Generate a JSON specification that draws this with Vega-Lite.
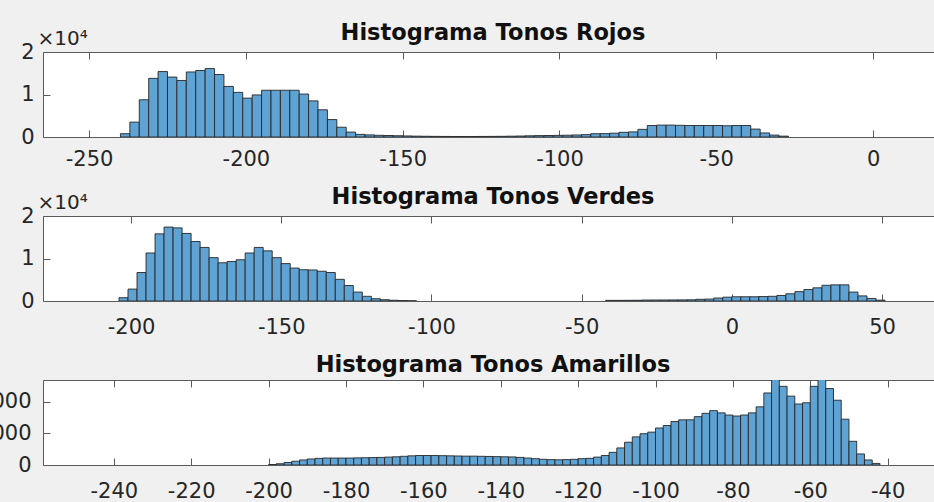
{
  "$schema": "https://vega.github.io/schema/vega-lite/v6.json",
  "background": "#f0f0f0",
  "padding": {"left": -23, "top": 21, "right": -3, "bottom": 0},
  "bounds": "flush",
  "spacing": 79,
  "config": {
    "view": {"stroke": "#5a5a5a", "strokeWidth": 1, "fill": "white"},
    "font": "DejaVu Sans",
    "axis": {"domain": false, "grid": false, "labelFont": "DejaVu Sans", "labelFontSize": 21, "labelColor": "#262626", "tickColor": "#5a5a5a", "tickSize": -7, "tickWidth": 1, "titleFont": "DejaVu Sans", "titleFontSize": 19, "titleFontWeight": "normal", "titleColor": "#262626"},
    "axisX": {"labelPadding": 20},
    "axisY": {"labelPadding": 16},
    "title": {"font": "DejaVu Sans", "fontSize": 22.5, "fontWeight": "bold", "color": "#111111", "anchor": "middle", "offset": 12, "baseline": "alphabetic"}
  },
  "datasets": {
    "rojos": [
      {"start": -240, "end": -237, "count": 780},
      {"start": -237, "end": -234, "count": 3500},
      {"start": -234, "end": -231, "count": 8760},
      {"start": -231, "end": -228, "count": 13800},
      {"start": -228, "end": -225, "count": 15400},
      {"start": -225, "end": -222, "count": 14100},
      {"start": -222, "end": -219, "count": 13300},
      {"start": -219, "end": -216, "count": 15300},
      {"start": -216, "end": -213, "count": 15650},
      {"start": -213, "end": -210, "count": 16100},
      {"start": -210, "end": -207, "count": 14700},
      {"start": -207, "end": -204, "count": 11900},
      {"start": -204, "end": -201, "count": 10500},
      {"start": -201, "end": -198, "count": 9150},
      {"start": -198, "end": -195, "count": 9900},
      {"start": -195, "end": -192, "count": 11000},
      {"start": -192, "end": -189, "count": 11000},
      {"start": -189, "end": -186, "count": 11000},
      {"start": -186, "end": -183, "count": 11000},
      {"start": -183, "end": -180, "count": 10100},
      {"start": -180, "end": -177, "count": 8500},
      {"start": -177, "end": -174, "count": 6400},
      {"start": -174, "end": -171, "count": 4100},
      {"start": -171, "end": -168, "count": 2300},
      {"start": -168, "end": -165, "count": 1160},
      {"start": -165, "end": -162, "count": 620},
      {"start": -162, "end": -159, "count": 500},
      {"start": -159, "end": -156, "count": 400},
      {"start": -156, "end": -153, "count": 350},
      {"start": -153, "end": -150, "count": 300},
      {"start": -150, "end": -147, "count": 250},
      {"start": -147, "end": -144, "count": 200},
      {"start": -144, "end": -141, "count": 170},
      {"start": -141, "end": -138, "count": 150},
      {"start": -138, "end": -135, "count": 130},
      {"start": -135, "end": -132, "count": 120},
      {"start": -132, "end": -129, "count": 120},
      {"start": -129, "end": -126, "count": 120},
      {"start": -126, "end": -123, "count": 130},
      {"start": -123, "end": -120, "count": 140},
      {"start": -120, "end": -117, "count": 160},
      {"start": -117, "end": -114, "count": 190},
      {"start": -114, "end": -111, "count": 230},
      {"start": -111, "end": -108, "count": 280},
      {"start": -108, "end": -105, "count": 330},
      {"start": -105, "end": -102, "count": 350},
      {"start": -102, "end": -99, "count": 380},
      {"start": -99, "end": -96, "count": 420},
      {"start": -96, "end": -93, "count": 480},
      {"start": -93, "end": -90, "count": 560},
      {"start": -90, "end": -87, "count": 780},
      {"start": -87, "end": -84, "count": 800},
      {"start": -84, "end": -81, "count": 900},
      {"start": -81, "end": -78, "count": 1100},
      {"start": -78, "end": -75, "count": 1200},
      {"start": -75, "end": -72, "count": 1800},
      {"start": -72, "end": -69, "count": 2700},
      {"start": -69, "end": -66, "count": 2800},
      {"start": -66, "end": -63, "count": 2800},
      {"start": -63, "end": -60, "count": 2750},
      {"start": -60, "end": -57, "count": 2700},
      {"start": -57, "end": -54, "count": 2700},
      {"start": -54, "end": -51, "count": 2700},
      {"start": -51, "end": -48, "count": 2700},
      {"start": -48, "end": -45, "count": 2650},
      {"start": -45, "end": -42, "count": 2700},
      {"start": -42, "end": -39, "count": 2700},
      {"start": -39, "end": -36, "count": 1860},
      {"start": -36, "end": -33, "count": 950},
      {"start": -33, "end": -30, "count": 450},
      {"start": -30, "end": -27, "count": 200}
    ],
    "verdes": [
      {"start": -204, "end": -201, "count": 780},
      {"start": -201, "end": -198, "count": 2800},
      {"start": -198, "end": -195, "count": 6700},
      {"start": -195, "end": -192, "count": 11300},
      {"start": -192, "end": -189, "count": 15800},
      {"start": -189, "end": -186, "count": 17400},
      {"start": -186, "end": -183, "count": 17200},
      {"start": -183, "end": -180, "count": 15900},
      {"start": -180, "end": -177, "count": 14000},
      {"start": -177, "end": -174, "count": 12600},
      {"start": -174, "end": -171, "count": 10200},
      {"start": -171, "end": -168, "count": 9000},
      {"start": -168, "end": -165, "count": 9300},
      {"start": -165, "end": -162, "count": 9700},
      {"start": -162, "end": -159, "count": 11300},
      {"start": -159, "end": -156, "count": 12600},
      {"start": -156, "end": -153, "count": 11800},
      {"start": -153, "end": -150, "count": 10200},
      {"start": -150, "end": -147, "count": 8800},
      {"start": -147, "end": -144, "count": 7750},
      {"start": -144, "end": -141, "count": 7350},
      {"start": -141, "end": -138, "count": 7300},
      {"start": -138, "end": -135, "count": 7000},
      {"start": -135, "end": -132, "count": 6700},
      {"start": -132, "end": -129, "count": 5100},
      {"start": -129, "end": -126, "count": 3650},
      {"start": -126, "end": -123, "count": 2100},
      {"start": -123, "end": -120, "count": 1100},
      {"start": -120, "end": -117, "count": 540},
      {"start": -117, "end": -114, "count": 300},
      {"start": -114, "end": -111, "count": 170},
      {"start": -111, "end": -108, "count": 100},
      {"start": -108, "end": -105, "count": 50},
      {"start": -42, "end": -39, "count": 150},
      {"start": -39, "end": -36, "count": 150},
      {"start": -36, "end": -33, "count": 160},
      {"start": -33, "end": -30, "count": 170},
      {"start": -30, "end": -27, "count": 220},
      {"start": -27, "end": -24, "count": 230},
      {"start": -24, "end": -21, "count": 240},
      {"start": -21, "end": -18, "count": 250},
      {"start": -18, "end": -15, "count": 260},
      {"start": -15, "end": -12, "count": 280},
      {"start": -12, "end": -9, "count": 400},
      {"start": -9, "end": -6, "count": 450},
      {"start": -6, "end": -3, "count": 700},
      {"start": -3, "end": 0, "count": 900},
      {"start": 0, "end": 3, "count": 1000},
      {"start": 3, "end": 6, "count": 1000},
      {"start": 6, "end": 9, "count": 1000},
      {"start": 9, "end": 12, "count": 1050},
      {"start": 12, "end": 15, "count": 1100},
      {"start": 15, "end": 18, "count": 1300},
      {"start": 18, "end": 21, "count": 1700},
      {"start": 21, "end": 24, "count": 2200},
      {"start": 24, "end": 27, "count": 2700},
      {"start": 27, "end": 30, "count": 3100},
      {"start": 30, "end": 33, "count": 3700},
      {"start": 33, "end": 36, "count": 3800},
      {"start": 36, "end": 39, "count": 3800},
      {"start": 39, "end": 42, "count": 2100},
      {"start": 42, "end": 45, "count": 1200},
      {"start": 45, "end": 48, "count": 600},
      {"start": 48, "end": 51, "count": 200}
    ],
    "amarillos": [
      {"start": -200, "end": -198, "count": 15},
      {"start": -198, "end": -196, "count": 40},
      {"start": -196, "end": -194, "count": 80},
      {"start": -194, "end": -192, "count": 120},
      {"start": -192, "end": -190, "count": 160},
      {"start": -190, "end": -188, "count": 190},
      {"start": -188, "end": -186, "count": 210},
      {"start": -186, "end": -184, "count": 220},
      {"start": -184, "end": -182, "count": 220},
      {"start": -182, "end": -180, "count": 220},
      {"start": -180, "end": -178, "count": 220},
      {"start": -178, "end": -176, "count": 225},
      {"start": -176, "end": -174, "count": 230},
      {"start": -174, "end": -172, "count": 235},
      {"start": -172, "end": -170, "count": 240},
      {"start": -170, "end": -168, "count": 250},
      {"start": -168, "end": -166, "count": 260},
      {"start": -166, "end": -164, "count": 275},
      {"start": -164, "end": -162, "count": 290},
      {"start": -162, "end": -160, "count": 300},
      {"start": -160, "end": -158, "count": 300},
      {"start": -158, "end": -156, "count": 300},
      {"start": -156, "end": -154, "count": 295},
      {"start": -154, "end": -152, "count": 290},
      {"start": -152, "end": -150, "count": 285},
      {"start": -150, "end": -148, "count": 280},
      {"start": -148, "end": -146, "count": 280},
      {"start": -146, "end": -144, "count": 275},
      {"start": -144, "end": -142, "count": 270},
      {"start": -142, "end": -140, "count": 265},
      {"start": -140, "end": -138, "count": 260},
      {"start": -138, "end": -136, "count": 255},
      {"start": -136, "end": -134, "count": 240},
      {"start": -134, "end": -132, "count": 220},
      {"start": -132, "end": -130, "count": 200},
      {"start": -130, "end": -128, "count": 180},
      {"start": -128, "end": -126, "count": 170},
      {"start": -126, "end": -124, "count": 165},
      {"start": -124, "end": -122, "count": 170},
      {"start": -122, "end": -120, "count": 180},
      {"start": -120, "end": -118, "count": 200},
      {"start": -118, "end": -116, "count": 210},
      {"start": -116, "end": -114, "count": 250},
      {"start": -114, "end": -112, "count": 300},
      {"start": -112, "end": -110, "count": 400},
      {"start": -110, "end": -108, "count": 540},
      {"start": -108, "end": -106, "count": 720},
      {"start": -106, "end": -104, "count": 890},
      {"start": -104, "end": -102, "count": 990},
      {"start": -102, "end": -100, "count": 1040},
      {"start": -100, "end": -98, "count": 1170},
      {"start": -98, "end": -96, "count": 1250},
      {"start": -96, "end": -94, "count": 1375},
      {"start": -94, "end": -92, "count": 1430},
      {"start": -92, "end": -90, "count": 1430},
      {"start": -90, "end": -88, "count": 1530},
      {"start": -88, "end": -86, "count": 1635},
      {"start": -86, "end": -84, "count": 1720},
      {"start": -84, "end": -82, "count": 1650},
      {"start": -82, "end": -80, "count": 1580},
      {"start": -80, "end": -78, "count": 1550},
      {"start": -78, "end": -76, "count": 1580},
      {"start": -76, "end": -74, "count": 1650},
      {"start": -74, "end": -72, "count": 1840},
      {"start": -72, "end": -70, "count": 2280},
      {"start": -70, "end": -68, "count": 2800},
      {"start": -68, "end": -66, "count": 2490},
      {"start": -66, "end": -64, "count": 2180},
      {"start": -64, "end": -62, "count": 1930},
      {"start": -62, "end": -60, "count": 1970},
      {"start": -60, "end": -58, "count": 2490},
      {"start": -58, "end": -56, "count": 2800},
      {"start": -56, "end": -54, "count": 2420},
      {"start": -54, "end": -52, "count": 2050},
      {"start": -52, "end": -50, "count": 1450},
      {"start": -50, "end": -48, "count": 750},
      {"start": -48, "end": -46, "count": 350},
      {"start": -46, "end": -44, "count": 160},
      {"start": -44, "end": -42, "count": 50}
    ]
  },
  "vconcat": [
    {
      "title": {"text": "Histograma Tonos Rojos", "offset": -16},
      "width": 900,
      "height": 85,
      "data": {"name": "rojos"},
      "resolve": {"axis": {"x": "independent", "y": "independent"}},
      "layer": [
        {
          "mark": {"type": "rect", "fill": "#5fa3d5", "stroke": "#262626", "strokeWidth": 0.9, "clip": true},
          "encoding": {
            "x": {"field": "start", "type": "quantitative", "scale": {"domain": [-264.7, 22.3], "nice": false, "zero": false},
                  "axis": {"orient": "bottom", "values": [-250, -200, -150, -100, -50, 0], "labelExpr": "'' + datum.value", "title": null, "labelPadding": 18}},
            "x2": {"field": "end"},
            "y": {"field": "count", "type": "quantitative", "scale": {"domain": [0, 20000], "nice": false},
                  "axis": {"orient": "left", "values": [0, 10000, 20000], "labelExpr": "'' + (datum.value / 10000)", "title": "×10⁴", "titleFontSize": 20, "titleAngle": 0, "titleAlign": "left", "titleBaseline": "alphabetic", "titleX": -6, "titleY": -8}},
            "y2": {"datum": 0}
          }
        },
        {
          "mark": {"type": "rect", "opacity": 0},
          "encoding": {
            "x": {"field": "start", "type": "quantitative", "axis": {"orient": "top", "values": [-250, -200, -150, -100, -50, 0], "labels": false, "title": null}},
            "x2": {"field": "end"},
            "y": {"field": "count", "type": "quantitative", "axis": {"orient": "right", "values": [0, 10000, 20000], "labels": false, "title": null}},
            "y2": {"datum": 0}
          }
        }
      ]
    },
    {
      "title": {"text": "Histograma Tonos Verdes", "offset": -16},
      "width": 900,
      "height": 85,
      "data": {"name": "verdes"},
      "resolve": {"axis": {"x": "independent", "y": "independent"}},
      "layer": [
        {
          "mark": {"type": "rect", "fill": "#5fa3d5", "stroke": "#262626", "strokeWidth": 0.9, "clip": true},
          "encoding": {
            "x": {"field": "start", "type": "quantitative", "scale": {"domain": [-229.3, 70.3], "nice": false, "zero": false},
                  "axis": {"orient": "bottom", "values": [-200, -150, -100, -50, 0, 50], "labelExpr": "'' + datum.value", "title": null, "labelPadding": 22}},
            "x2": {"field": "end"},
            "y": {"field": "count", "type": "quantitative", "scale": {"domain": [0, 20000], "nice": false},
                  "axis": {"orient": "left", "values": [0, 10000, 20000], "labelExpr": "'' + (datum.value / 10000)", "title": "×10⁴", "titleFontSize": 20, "titleAngle": 0, "titleAlign": "left", "titleBaseline": "alphabetic", "titleX": -6, "titleY": -8}},
            "y2": {"datum": 0}
          }
        },
        {
          "mark": {"type": "rect", "opacity": 0},
          "encoding": {
            "x": {"field": "start", "type": "quantitative", "axis": {"orient": "top", "values": [-200, -150, -100, -50, 0, 50], "labels": false, "title": null}},
            "x2": {"field": "end"},
            "y": {"field": "count", "type": "quantitative", "axis": {"orient": "right", "values": [0, 10000, 20000], "labels": false, "title": null}},
            "y2": {"datum": 0}
          }
        }
      ]
    },
    {
      "title": {"text": "Histograma Tonos Amarillos", "offset": 0},
      "width": 900,
      "height": 85,
      "data": {"name": "amarillos"},
      "resolve": {"axis": {"x": "independent", "y": "independent"}},
      "layer": [
        {
          "mark": {"type": "rect", "fill": "#5fa3d5", "stroke": "#262626", "strokeWidth": 0.9, "clip": true},
          "encoding": {
            "x": {"field": "start", "type": "quantitative", "scale": {"domain": [-258.3, -25.7], "nice": false, "zero": false},
                  "axis": {"orient": "bottom", "values": [-240, -220, -200, -180, -160, -140, -120, -100, -80, -60, -40], "labelExpr": "'' + datum.value", "title": null, "labelPadding": 22}},
            "x2": {"field": "end"},
            "y": {"field": "count", "type": "quantitative", "scale": {"domain": [0, 2690], "nice": false},
                  "axis": {"orient": "left", "values": [0, 1000, 2000], "labelExpr": "'' + datum.value", "title": null, "labelPadding": 19}},
            "y2": {"datum": 0}
          }
        },
        {
          "mark": {"type": "rect", "opacity": 0},
          "encoding": {
            "x": {"field": "start", "type": "quantitative", "axis": {"orient": "top", "values": [-240, -220, -200, -180, -160, -140, -120, -100, -80, -60, -40], "labels": false, "title": null}},
            "x2": {"field": "end"},
            "y": {"field": "count", "type": "quantitative", "axis": {"orient": "right", "values": [0, 1000, 2000], "labels": false, "title": null}},
            "y2": {"datum": 0}
          }
        }
      ]
    }
  ]
}
